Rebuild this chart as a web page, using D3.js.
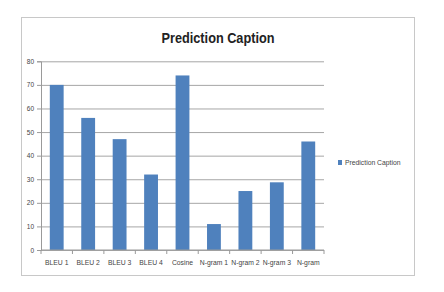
<!DOCTYPE html>
<html>
<head>
<meta charset="utf-8">
<script src="https://cdn.jsdelivr.net/npm/d3@7"></script>
<style>
  body { margin: 0; background: #fff; }
  text { font-family: "Liberation Sans Narrow", "Liberation Sans", Arial, sans-serif; }
</style>
</head>
<body>
<div id="chart"></div>
<script>
var width = 444;
var height = 292;
var margin = { top: 61, bottom: 42, left: 41, right: 120 };

// chart data
var categories = ["BLEU 1", "BLEU 2", "BLEU 3", "BLEU 4", "Cosine", "N-gram 1", "N-gram 2", "N-gram 3", "N-gram"];
var scores = [70, 56, 47, 32, 74, 11, 25, 28.7, 46];
var yTicks = [0, 10, 20, 30, 40, 50, 60, 70, 80];
var seriesName = "Prediction Caption";
var barColor = "#4f81bd";

var svg = d3.select("#chart")
  .append("svg")
  .attr("width", width)
  .attr("height", height);

// outer chart frame
svg.append("rect")
  .attr("x", 21.5).attr("y", 17.5)
  .attr("width", 393).attr("height", 258)
  .attr("fill", "#fff")
  .attr("stroke", "#c8c8c8")
  .attr("stroke-width", 1);

svg.append("text")
  .attr("x", 218).attr("y", 43)
  .attr("text-anchor", "middle")
  .attr("font-size", 14)
  .attr("font-weight", "bold")
  .attr("fill", "#222")
  .attr("textLength", 113)
  .attr("lengthAdjust", "spacingAndGlyphs")
  .text(seriesName);

var xScale = d3.scaleBand()
  .domain(categories)
  .range([margin.left, width - margin.right])
  .paddingInner(0.56)
  .paddingOuter(0.28);

var yScale = d3.scaleLinear()
  .domain([0, 80])
  .range([height - margin.bottom, margin.top + 0.3]);

// grid lines
svg.append("g")
  .attr("transform", "translate(" + margin.left + ",0)")
  .call(d3.axisLeft(yScale).tickValues(yTicks).tickSize(-(width - margin.right - margin.left)).tickFormat(""))
  .call(function (g) { g.select(".domain").remove(); })
  .selectAll("line")
  .attr("stroke", "#a6a6a6");

// y axis
var yAxisG = svg.append("g")
  .attr("transform", "translate(" + margin.left + ",0)")
  .call(d3.axisLeft(yScale).tickValues(yTicks).tickSize(4).tickPadding(3));
yAxisG.select(".domain").attr("stroke", "#9a9a9a");
yAxisG.selectAll("line").attr("stroke", "#9a9a9a");
yAxisG.selectAll("text").attr("font-size", 6.5).attr("fill", "#444");

// bars
svg.selectAll(".bar")
  .data(scores)
  .enter()
  .append("rect")
  .attr("class", "bar")
  .attr("x", function (d, i) { return xScale(categories[i]); })
  .attr("y", function (d) { return yScale(d); })
  .attr("width", xScale.bandwidth())
  .attr("height", function (d) { return yScale(0) - yScale(d); })
  .attr("fill", barColor);

// x axis, ticks sit between categories
var step = xScale.step();
var xAxisG = svg.append("g")
  .attr("transform", "translate(0," + yScale(0) + ")");
xAxisG.append("line")
  .attr("x1", margin.left).attr("x2", width - margin.right)
  .attr("stroke", "#9a9a9a");
xAxisG.selectAll(".sep")
  .data(d3.range(categories.length + 1))
  .enter()
  .append("line")
  .attr("x1", function (i) { return margin.left + i * step; })
  .attr("x2", function (i) { return margin.left + i * step; })
  .attr("y1", 0).attr("y2", 4)
  .attr("stroke", "#9a9a9a");
xAxisG.selectAll(".lab")
  .data(categories)
  .enter()
  .append("text")
  .attr("x", function (d) { return xScale(d) + xScale.bandwidth() / 2; })
  .attr("y", 15)
  .attr("text-anchor", "middle")
  .attr("font-size", 6.8)
  .attr("fill", "#444")
  .text(function (d) { return d; });

// legend
svg.append("rect")
  .attr("x", 338).attr("y", 160)
  .attr("width", 4).attr("height", 5)
  .attr("fill", barColor);
svg.append("text")
  .attr("x", 345).attr("y", 165)
  .attr("font-size", 6.8)
  .attr("fill", "#444")
  .text(seriesName);
</script>
</body>
</html>
